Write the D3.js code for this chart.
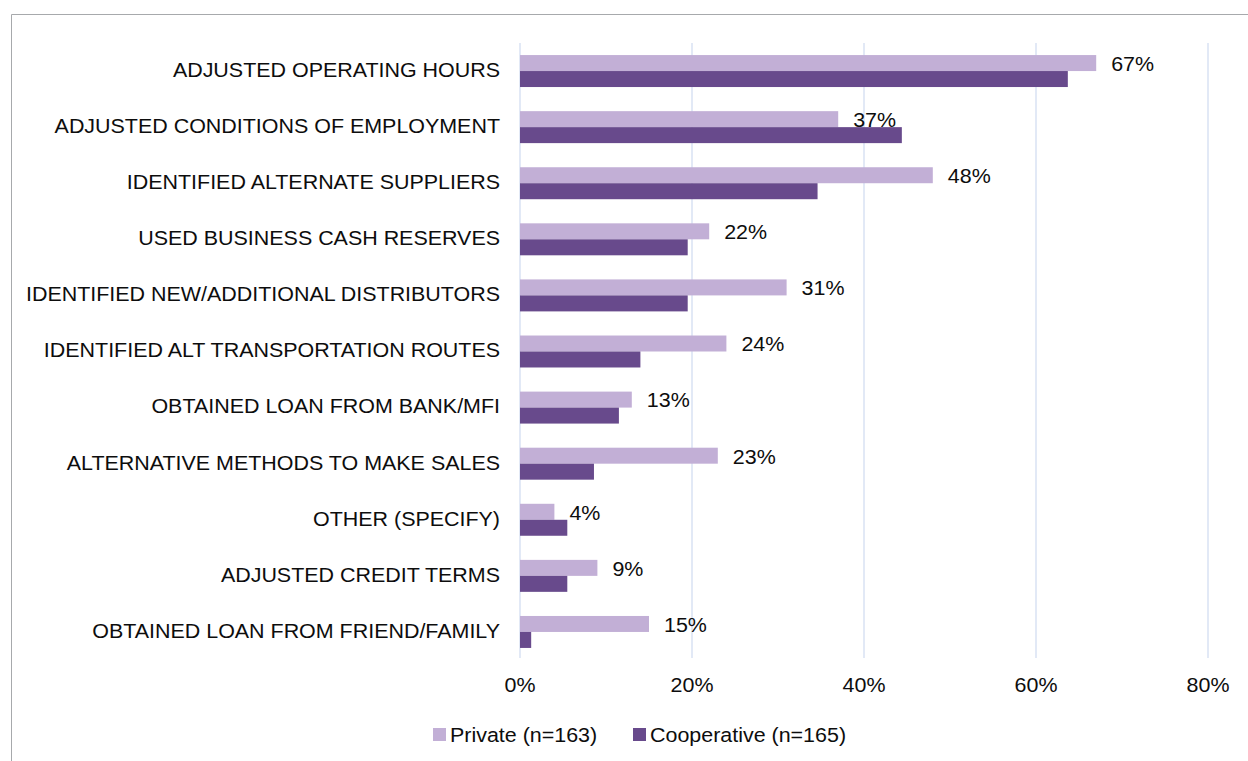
<!DOCTYPE html>
<html>
<head>
<meta charset="utf-8">
<script src="https://cdn.jsdelivr.net/npm/d3@7"></script>
<style>
  html, body { margin: 0; padding: 0; background: #fff; }
  svg { display: block; }
  text { font-family: "Liberation Sans", Arial, Helvetica, sans-serif; fill: #0d0d0d; }
</style>
</head>
<body>
<svg id="chart" width="1248" height="761"></svg>
<script>
// Coping strategies by business type (share of respondents)
const categories = [
  "ADJUSTED OPERATING HOURS",
  "ADJUSTED CONDITIONS OF EMPLOYMENT",
  "IDENTIFIED ALTERNATE SUPPLIERS",
  "USED BUSINESS CASH RESERVES",
  "IDENTIFIED NEW/ADDITIONAL DISTRIBUTORS",
  "IDENTIFIED ALT TRANSPORTATION ROUTES",
  "OBTAINED LOAN FROM BANK/MFI",
  "ALTERNATIVE METHODS TO MAKE SALES",
  "OTHER (SPECIFY)",
  "ADJUSTED CREDIT TERMS",
  "OBTAINED LOAN FROM FRIEND/FAMILY"
];
const seriesNames = ["Private (n=163)", "Cooperative (n=165)"];
const privateValues = [0.67, 0.37, 0.48, 0.22, 0.31, 0.24, 0.13, 0.23, 0.04, 0.09, 0.15];
const cooperativeValues = [0.637, 0.444, 0.346, 0.195, 0.195, 0.140, 0.115, 0.086, 0.055, 0.055, 0.013];
const xTicks = [0, 0.2, 0.4, 0.6, 0.8];
const colors = ["#c2afd6", "#684a8c"];

const svg = d3.select("#chart");
const FS = 19.5;        // base font size
const SX = 1.1;         // slight horizontal stretch of the lettering

// frame (top and left edges)
svg.append("path")
  .attr("d", "M11.5,761 V14.5 H1248")
  .attr("fill", "none")
  .attr("stroke", "#a7a9ac")
  .attr("stroke-width", 1);

const x = d3.scaleLinear().domain([0, 0.8]).range([520, 1208]);
const y = d3.scaleBand().domain(categories).range([43, 660]).paddingInner(0.43).paddingOuter(0.215);
const ySub = d3.scaleBand().domain(seriesNames).range([0, y.bandwidth()]);

// vertical gridlines
svg.append("g").selectAll("line")
  .data(xTicks)
  .join("line")
  .attr("x1", d => x(d)).attr("x2", d => x(d))
  .attr("y1", 43).attr("y2", 658)
  .attr("stroke", "#d9e2f3")
  .attr("stroke-width", 1.5);

// x tick labels
const fmt = d3.format(".0%");
svg.append("g").selectAll("text")
  .data(xTicks)
  .join("text")
  .attr("transform", d => `translate(${x(d)},685) scale(${SX},1)`)
  .attr("text-anchor", "middle")
  .attr("dy", "0.35em")
  .attr("font-size", FS)
  .text(d => fmt(d));

// category labels
svg.append("g").selectAll("text")
  .data(categories)
  .join("text")
  .attr("transform", d => `translate(500,${y(d) + y.bandwidth() / 2 - 1}) scale(${SX},1)`)
  .attr("text-anchor", "end")
  .attr("dy", "0.35em")
  .attr("font-size", FS)
  .text(d => d);

// bars
const rows = categories.map((c, i) => ({
  cat: c,
  vals: [
    { s: seriesNames[0], v: privateValues[i], k: 0 },
    { s: seriesNames[1], v: cooperativeValues[i], k: 1 }
  ]
}));

const groups = svg.append("g").selectAll("g")
  .data(rows)
  .join("g")
  .attr("transform", d => `translate(0,${y(d.cat)})`);

groups.selectAll("rect")
  .data(d => d.vals)
  .join("rect")
  .attr("x", x(0))
  .attr("y", d => ySub(d.s))
  .attr("width", d => x(d.v) - x(0))
  .attr("height", ySub.bandwidth())
  .attr("fill", d => colors[d.k]);

// value labels for the private series
svg.append("g").selectAll("text")
  .data(rows)
  .join("text")
  .attr("transform", d => `translate(${x(d.vals[0].v) + 15},${y(d.cat) + ySub(seriesNames[0]) + ySub.bandwidth() / 2 + 1}) scale(${SX},1)`)
  .attr("dy", "0.35em")
  .attr("font-size", FS)
  .text(d => fmt(d.vals[0].v));

// legend
const legendX = [433, 633];
const legend = svg.append("g").selectAll("g")
  .data(seriesNames)
  .join("g")
  .attr("transform", (d, i) => `translate(${legendX[i]},728)`);
legend.append("rect")
  .attr("width", 13).attr("height", 13)
  .attr("fill", (d, i) => colors[i]);
legend.append("text")
  .attr("transform", `translate(17,7) scale(${SX},1)`)
  .attr("dy", "0.35em")
  .attr("font-size", FS)
  .text(d => d);
</script>
</body>
</html>
